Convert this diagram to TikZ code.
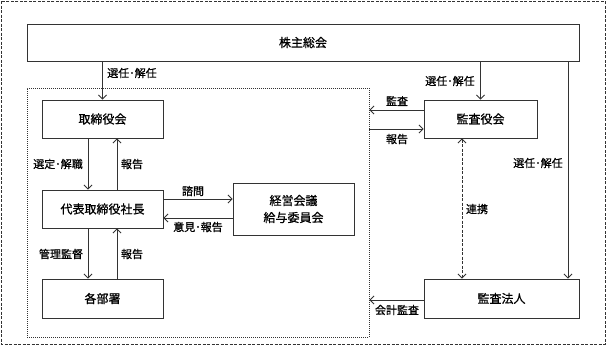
\documentclass[tikz,border=0pt]{standalone}
\usepackage{fontspec}
\setmainfont{Noto Sans CJK JP}[FakeBold=0.8,AutoFakeBold=0.8]
\usetikzlibrary{arrows.meta,calc}
\definecolor{linec}{HTML}{333333}
\begin{document}
\begin{tikzpicture}[x=1pt,y=-1pt,
  box/.style={draw=linec,line width=0.9pt,inner sep=0pt,align=center,
    font=\fontsize{12}{17}\selectfont\bfseries},
  lbl/.style={inner sep=0pt,font=\fontsize{11}{13}\selectfont\bfseries},
  arr/.style={draw=linec,line width=0.9pt,-{Straight Barb[length=4pt,width=8pt]}},
  darr/.style={draw=linec,line width=0.9pt,dash pattern=on 3pt off 1.5pt,
    {Straight Barb[length=4pt,width=8pt]}-{Straight Barb[length=4pt,width=8pt]}},
  frame/.style={draw=linec,line width=0.8pt,inner sep=0pt}]
\useasboundingbox (0,0) rectangle (607,346);
\draw[linec,line width=0.9pt,dash pattern=on 3pt off 1.5pt] (1,1) rectangle (605,344);
\node[frame,dash pattern=on 1pt off 1pt,minimum width=342pt,minimum height=249pt] (inner) at (198,212.5) {};
\node[box,minimum width=552pt,minimum height=37pt] (kabu) at (303,42.5) {株主総会};
\node[box,minimum width=121pt,minimum height=38pt] (tori) at (102.5,119) {取締役会};
\node[box,minimum width=121pt,minimum height=38pt] (ceo) at (102.5,209) {代表取締役社長};
\node[box,minimum width=121pt,minimum height=39pt] (dept) at (102.5,298.5) {各部署};
\node[box,minimum width=121pt,minimum height=52pt] (kei) at (293.5,209) {経営会議\\給与委員会};
\node[box,minimum width=113pt,minimum height=38pt] (kansa) at (480.5,119) {監査役会};
\node[box,minimum width=155pt,minimum height=39pt] (houjin) at (501.5,298.5) {監査法人};
\coordinate (rx) at (568,0);
\coordinate (cx) at (462,0);
\coordinate (y1) at (0,199);
\coordinate (y2) at (0,218);
\coordinate (y3) at (0,110);
\coordinate (y4) at (0,129);
\coordinate (y5) at (0,300);
\draw[arr] (kabu.south -| tori.north) -- (tori.north);
\draw[arr] (kabu.south -| kansa.north) -- (kansa.north);
\draw[arr] (kabu.south -| rx) -- (houjin.north -| rx);
\draw[arr] ([xshift=-14.5pt]tori.south) -- ([xshift=-14.5pt]ceo.north);
\draw[arr] ([xshift=14.5pt]ceo.north) -- ([xshift=14.5pt]tori.south);
\draw[arr] ([xshift=-14.5pt]ceo.south) -- ([xshift=-14.5pt]dept.north);
\draw[arr] ([xshift=14.5pt]dept.north) -- ([xshift=14.5pt]ceo.south);
\draw[arr] (ceo.east |- y1) -- (kei.west |- y1);
\draw[arr] (kei.west |- y2) -- (ceo.east |- y2);
\draw[arr] (kansa.west |- y3) -- (inner.east |- y3);
\draw[arr] (inner.east |- y4) -- (kansa.west |- y4);
\draw[arr] (houjin.west |- y5) -- (inner.east |- y5);
\draw[darr] (kansa.south -| cx) -- (houjin.north -| cx);
\node[lbl] (l1) at (132,73) {選任･解任};
\node[lbl] (l2) at (450,81) {選任･解任};
\node[lbl] (l3) at (538,163) {選任･解任};
\node[lbl] (l4) at (58,164) {選定･解職};
\node[lbl] (l5) at (132,164) {報告};
\node[lbl] (l6) at (61,254) {管理監督};
\node[lbl] (l7) at (132,254) {報告};
\node[lbl] (l8) at (193,191) {諮問};
\node[lbl] (l9) at (198,227) {意見･報告};
\node[lbl] (l10) at (397,101) {監査};
\node[lbl] (l11) at (397,139) {報告};
\node[lbl] (l12) at (477,209) {連携};
\node[lbl] (l13) at (397,310) {会計監査};
\end{tikzpicture}
\end{document}
